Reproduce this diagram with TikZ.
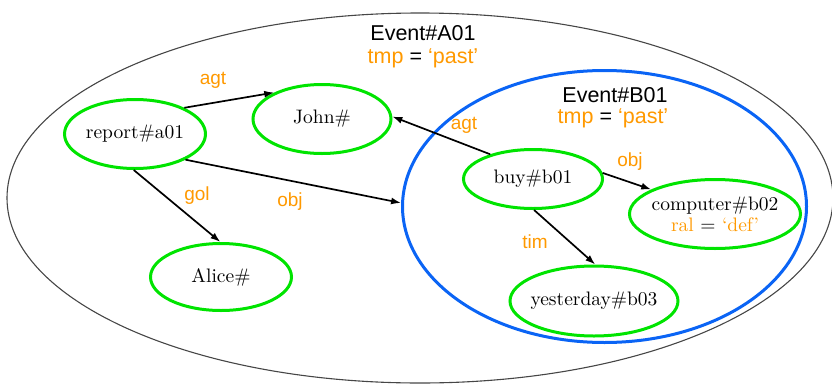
\documentclass[tikz,border=0pt]{standalone}
\usepackage{fontspec}
\newfontfamily\lsans{Liberation Sans}
\newfontfamily\nserif{lmroman10-regular}[Extension=.otf]
\usetikzlibrary{shapes.geometric,arrows.meta}
\definecolor{ngreen}{RGB}{0,228,0}
\definecolor{nblue}{RGB}{10,100,245}
\definecolor{norange}{RGB}{255,153,0}
\definecolor{ngray}{RGB}{70,70,70}
\begin{document}
\begin{tikzpicture}[x=1pt,y=-1pt,
  ent/.style={ellipse, draw=ngreen, line width=3pt, inner sep=0pt, font=\nserif\fontsize{19.5}{23}\selectfont},
  lbl/.style={text=norange, font=\lsans\fontsize{19}{22}\selectfont, inner sep=0pt},
  ttl/.style={font=\lsans\fontsize{21.5}{26}\selectfont, inner sep=0pt, anchor=base},
  arr/.style={-{Latex[length=10pt,width=7pt]}, line width=1.7pt, black}]
\useasboundingbox (0,0) rectangle (832,383);
\node[ellipse, draw=ngray, line width=1.1pt, minimum width=826pt, minimum height=370pt, inner sep=0pt] (A) at (420,198) {};
\node[ellipse, draw=nblue, line width=3pt, minimum width=404pt, minimum height=272pt, inner sep=0pt] (B) at (604.5,206.5) {};
\node[ttl] (At) at (423,40) {Event\#A01};
\node[ttl] (Ap) at (423,63) {\textcolor{norange}{tmp} = \textcolor{norange}{‘past’}};
\node[ttl] (Bt) at (615,102) {Event\#B01};
\node[ttl] (Bp) at (613,123) {\textcolor{norange}{tmp} = \textcolor{norange}{‘past’}};
\node[ent, minimum width=141pt, minimum height=69pt] (rep) at (135,134) {report\#a01};
\node[ent, minimum width=138pt, minimum height=69pt] (john) at (322,119) {John\#};
\node[ent, minimum width=141pt, minimum height=67pt] (alice) at (221,277) {Alice\#};
\node[ent, minimum width=139pt, minimum height=59pt] (buy) at (533,179) {buy\#b01};
\node[ent, minimum width=171pt, minimum height=69pt, inner xsep=-10pt, inner ysep=-3pt, align=center] (comp) at (715,214) {computer\#b02\\[-2pt]\textcolor{norange}{ral} = \textcolor{norange}{‘def’}};
\node[ent, minimum width=168pt, minimum height=70pt, inner xsep=-10pt] (yest) at (594,301) {yesterday\#b03};
\draw[arr] (rep.28) -- (john.151.6);
\draw[arr] (rep.268) -- (alice.91.6);
\draw[arr] (rep.333.4) -- (B.179.6);
\draw[arr] (buy.150) -- (john.2);
\draw[arr] (buy.5) -- (comp.159);
\draw[arr] (buy.272) -- (yest.88);
\node[lbl] (l1) at (213,80) {agt};
\node[lbl] (l2) at (197,196) {gol};
\node[lbl] (l3) at (290,202) {obj};
\node[lbl] (l4) at (464,125) {agt};
\node[lbl] (l5) at (630,162) {obj};
\node[lbl] (l6) at (535,242) {tim};
\end{tikzpicture}
\end{document}
